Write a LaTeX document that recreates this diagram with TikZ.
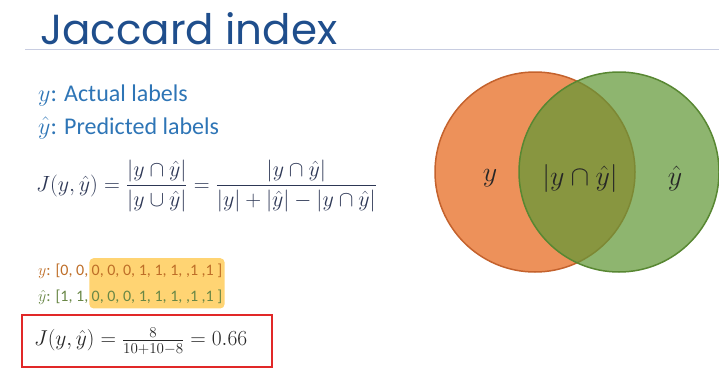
\RequirePackage{fix-cm}
\documentclass[tikz,border=0pt]{standalone}
\usepackage{amsmath}
\usepackage{fontspec}
\setmainfont{Carlito}
\newfontfamily\titlefont{Poppins}
\usetikzlibrary{positioning,fit,backgrounds}
\definecolor{jiBlue}{RGB}{31,78,140}
\definecolor{jiText}{RGB}{46,117,182}
\definecolor{jiMath}{RGB}{45,55,85}
\definecolor{jiRule}{RGB}{200,205,225}
\definecolor{jiOrange}{RGB}{237,145,90}
\definecolor{jiOrangeDk}{RGB}{196,98,45}
\definecolor{jiGreen}{RGB}{98,152,55}
\definecolor{jiGreenDk}{RGB}{88,135,50}
\definecolor{jiYText}{RGB}{190,110,40}
\definecolor{jiPText}{RGB}{105,135,70}
\definecolor{jiHigh}{RGB}{255,205,90}
\definecolor{jiRed}{RGB}{225,40,40}

\begin{document}
\begin{tikzpicture}[
    x=1pt, y=-1pt,
    title/.style={font=\titlefont\fontsize{42}{46}\selectfont, text=jiBlue, inner sep=0pt},
    defline/.style={font=\fontsize{24}{28}\selectfont, text=jiText, inner sep=0pt},
    formula/.style={font=\fontsize{22}{26}\selectfont, text=jiMath, inner sep=0pt},
    vecline/.style={font=\fontsize{16}{18}\selectfont, inner sep=0pt},
    setY/.style={circle, minimum size=200pt, draw=jiOrangeDk, line width=1.5pt, fill=jiOrange},
    setP/.style={circle, minimum size=200pt, draw=jiGreenDk, line width=1.5pt, fill=jiGreen, fill opacity=0.72},
    setlabel/.style={font=\fontsize{28}{32}\selectfont, text=black!85, inner sep=0pt}
]
  \useasboundingbox (0,0) rectangle (719,369);

  % title and rule
  \node[title, anchor=base west] (title) at (40,45) {Jaccard index};
  \coordinate (rulel) at (25,50);
  \coordinate (ruler) at (719,50);
  \draw[jiRule, line width=1pt] (rulel) -- (ruler);

  % definitions
  \node[defline, anchor=base west] (defy) at (38,101) {$y$: Actual labels};
  \node[defline, anchor=base west] (defp) at (38,134) {$\hat{y}$: Predicted labels};
  \node[formula, anchor=west] (jacc) at (36,186)
    {$J(y,\hat{y}) = \dfrac{|y\cap\hat{y}|}{|y\cup\hat{y}|} = \dfrac{|y\cap\hat{y}|}{|y|+|\hat{y}|-|y\cap\hat{y}|}$};

  % example vectors
  \node[vecline, text=jiYText, anchor=base west] (vecya) at (38,275) {$y$: [0, 0,};
  \node[vecline, text=jiYText, anchor=base west] (vecyb) at ([xshift=3pt]vecya.base east) {0, 0, 0, 1, 1, 1, ,1 ,1 ]};
  \node[vecline, text=jiPText, anchor=base west] (vecpa) at (38,301) {$\hat{y}$: [1, 1,};
  \node[vecline, text=jiPText, anchor=base west] (vecpb) at (vecyb.west |- vecpa.base) {0, 0, 0, 1, 1, 1, ,1 ,1 ]};
  \begin{scope}[on background layer]
    \node[fill=jiHigh, fill opacity=0.85, rounded corners=4pt, inner xsep=2pt, inner ysep=5pt, fit=(vecyb)(vecpb)] (high) {};
  \end{scope}

  % result
  \node[draw=jiRed, line width=1.2pt, fill=white, minimum width=250pt, minimum height=52pt] (result) at (147,341) {};
  \node[formula, font=\fontsize{21.5}{25}\selectfont, text=black!85, anchor=west] (resval) at (34,341)
    {$J(y,\hat{y}) = \frac{8}{10+10-8} = 0.66$};

  % venn diagram
  \node[setY] (cy) at (535,172) {};
  \node[setP] (cp) at (619,172) {};
  \node[setlabel] (ly) at (490,178) {$y$};
  \node[setlabel] (lboth) at (580,178) {$|y\cap\hat{y}|$};
  \node[setlabel] (lp) at (675,178) {$\hat{y}$};
\end{tikzpicture}
\end{document}
